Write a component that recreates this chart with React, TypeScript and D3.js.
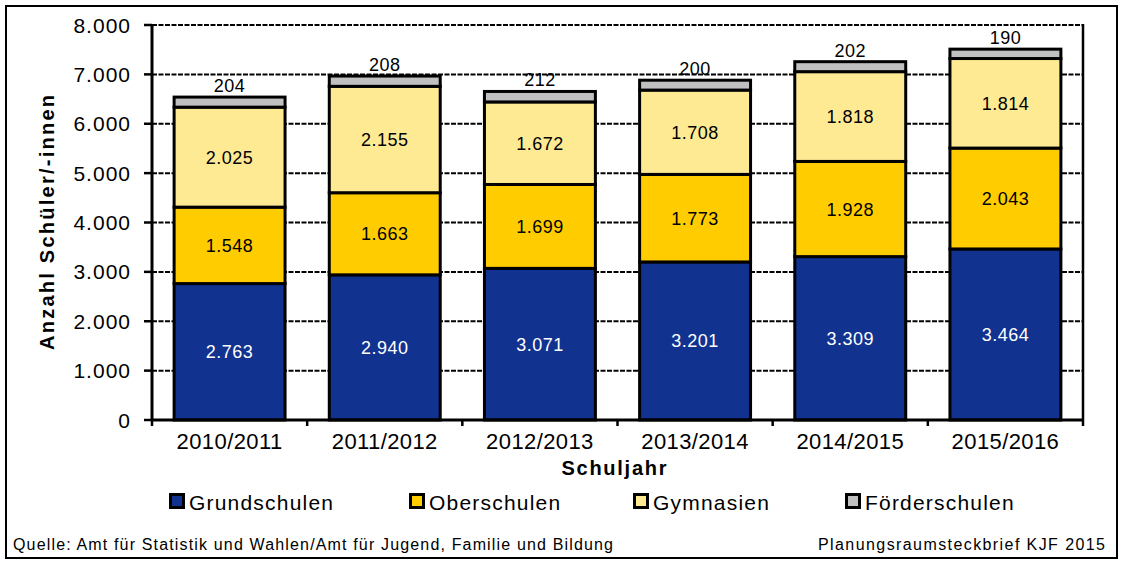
import React from "react";
import * as d3 from "d3";

const years = ["2010/2011", "2011/2012", "2012/2013", "2013/2014", "2014/2015", "2015/2016"];
const grundschulen = [2763, 2940, 3071, 3201, 3309, 3464];
const oberschulen = [1548, 1663, 1699, 1773, 1928, 2043];
const gymnasien = [2025, 2155, 1672, 1708, 1818, 1814];
const foerderschulen = [204, 208, 212, 200, 202, 190];
const seriesNames = ["Grundschulen", "Oberschulen", "Gymnasien", "Förderschulen"];
const seriesColors = ["#11328f", "#ffcc00", "#ffea94", "#c0c0c0"];
const yTicks = [0, 1000, 2000, 3000, 4000, 5000, 6000, 7000, 8000];

const W = 1123;
const H = 564;
const font = "'Liberation Sans', Arial, sans-serif";
const fmt = (v: number) => d3.format(",")(v).replace(/,/g, ".");

export default function App() {
  const left = 152, right = 1083, top = 25, bottom = 420;
  const x = d3.scaleBand().domain(years).range([left, right]).paddingInner(0.285).paddingOuter(0.1425);
  const y = d3.scaleLinear().domain([0, 8000]).range([bottom, top]);

  const rows = years.map((yr, i) => ({
    year: yr,
    Grundschulen: grundschulen[i],
    Oberschulen: oberschulen[i],
    Gymnasien: gymnasien[i],
    "Förderschulen": foerderschulen[i],
  }));
  const stack = d3.stack<any>().keys(seriesNames)(rows);

  // legend swatch left edges
  const legendX = [169, 409, 633, 845];

  return (
    <svg width={W} height={H} style={{ position: "absolute", left: 0, top: 0, fontFamily: font }}>
      <rect x={0} y={0} width={W} height={H} fill="#fff" />
      <rect x={6} y={6} width={1111} height={552} fill="none" stroke="#000" strokeWidth={2} />

      {/* gridlines */}
      {yTicks.slice(1).map((t) => (
        <line key={t} x1={left} x2={right} y1={y(t)} y2={y(t)} stroke="#000" strokeWidth={2} strokeDasharray="5,1.5" />
      ))}
      <line x1={right} x2={right} y1={top - 1} y2={bottom} stroke="#000" strokeWidth={2.5} />

      {/* bars */}
      {stack.map((s, si) =>
        s.map((d, i) => (
          <rect
            key={si + "-" + i}
            x={x(years[i])}
            width={x.bandwidth()}
            y={y(d[1])}
            height={y(d[0]) - y(d[1])}
            fill={seriesColors[si]}
            stroke="#000"
            strokeWidth={3}
          />
        ))
      )}

      {/* value labels */}
      {stack.map((s, si) =>
        s.map((d, i) => {
          const cx = (x(years[i]) as number) + x.bandwidth() / 2;
          const val = d[1] - d[0];
          const cy = si === 3 ? y(d[1]) - 5 : (y(d[0]) + y(d[1])) / 2 + 6.5;
          return (
            <text key={"l" + si + "-" + i} x={cx} y={cy} textAnchor="middle" fontSize={18} letterSpacing={0.5}
              fill={si === 0 ? "#fff" : "#000"}>
              {fmt(val)}
            </text>
          );
        })
      )}

      {/* axes */}
      <line x1={left} x2={left} y1={top - 1} y2={bottom} stroke="#000" strokeWidth={3} />
      <line x1={left - 1} x2={right + 1} y1={bottom} y2={bottom} stroke="#000" strokeWidth={3} />
      {yTicks.map((t) => (
        <g key={"yt" + t}>
          <line x1={left - 8} x2={left} y1={y(t)} y2={y(t)} stroke="#000" strokeWidth={2.5} />
          <text x={left - 21} y={y(t) + 7.5} textAnchor="end" fontSize={21} letterSpacing={1}>{fmt(t)}</text>
        </g>
      ))}
      {d3.range(years.length + 1).map((i) => {
        const xx = left + ((right - left) / years.length) * i;
        return <line key={"xt" + i} x1={xx} x2={xx} y1={bottom} y2={bottom + 6} stroke="#000" strokeWidth={2.5} />;
      })}
      {years.map((yr) => (
        <text key={yr} x={(x(yr) as number) + x.bandwidth() / 2} y={449} textAnchor="middle" fontSize={22} letterSpacing={0.4}>{yr}</text>
      ))}
      <text x={614} y={475} textAnchor="middle" fontSize={20} fontWeight="bold" textLength={105} lengthAdjust="spacing">Schuljahr</text>
      <text transform={`translate(54,${(top + bottom) / 2}) rotate(-90)`} textAnchor="middle" fontSize={20} fontWeight="bold"
        textLength={255} lengthAdjust="spacing">
        Anzahl Schüler/-innen
      </text>

      {/* legend */}
      {seriesNames.map((n, i) => (
        <g key={n}>
          <rect x={legendX[i] + 1.5} y={494.5} width={13} height={13} fill={seriesColors[i]} stroke="#000" strokeWidth={3} />
          <text x={legendX[i] + 20} y={510} fontSize={21} letterSpacing={1.2}>{n}</text>
        </g>
      ))}

      <text x={13} y={550} fontSize={16} textLength={600} lengthAdjust="spacing">
        Quelle: Amt für Statistik und Wahlen/Amt für Jugend, Familie und Bildung
      </text>
      <text x={818} y={550} fontSize={16} textLength={287} lengthAdjust="spacing">Planungsraumsteckbrief KJF 2015</text>
    </svg>
  );
}
